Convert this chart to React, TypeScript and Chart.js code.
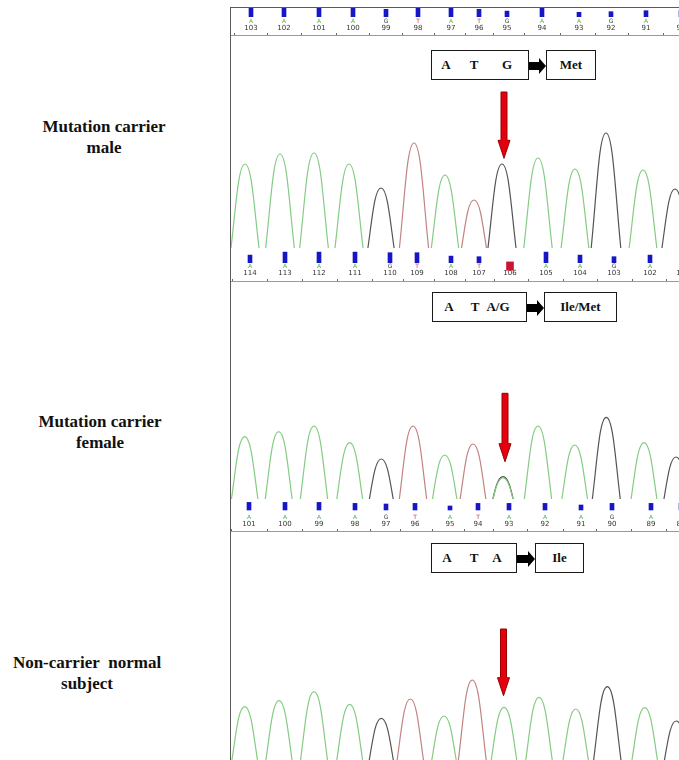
import React, { useEffect, useRef } from 'react';
import { Chart, registerables } from 'chart.js';
Chart.register(...registerables);

// ---------------- data ----------------
// x values are trace scan numbers, peak heights are signal intensity (RFU),
// quality values are Phred-like scores of the base calls.

// Panel 1 - mutation carrier male
const P1_POSITIONS = [103, 102, 101, 100, 99, 98, 97, 96, 95, 94, 93, 92, 91, 90];
const P1_CALLS = ['A', 'A', 'A', 'A', 'G', 'T', 'A', 'T', 'G', 'A', 'A', 'G', 'A', 'G'];
const P1_CALL_SCANS = [10, 26.5, 44, 61, 77.5, 93.5, 110, 124, 138, 155.5, 174, 190, 207.5, 225];
const P1_QUALITY = [42, 42, 42, 42, 37, 42, 42, 37, 28, 42, 22, 25, 30, 30];
const P1_PEAK_BASES = ['A', 'A', 'A', 'A', 'G', 'T', 'A', 'T', 'G', 'A', 'A', 'G', 'A', 'G'];
const P1_PEAK_SCANS = [7, 24.5, 41.5, 59, 75, 91.5, 107, 121.5, 135.5, 153.5, 172, 187.5, 206, 222];
const P1_PEAK_HEIGHTS = [1140, 1240, 1250, 1140, 900, 1350, 1030, 780, 1140, 1200, 1090, 1450, 1080, 890];

// Panel 2 - mutation carrier female
const P2_POSITIONS = [114, 113, 112, 111, 110, 109, 108, 107, 106, 105, 104, 103, 102, 101];
const P2_CALLS = ['A', 'A', 'A', 'A', 'G', 'T', 'A', 'T', '', 'A', 'A', 'G', 'A', 'A'];
const P2_CALL_SCANS = [9.5, 27, 44, 62, 79.5, 93, 110, 124, 139.5, 157.5, 174.5, 191.5, 209.5, 226];
const P2_QUALITY = [38, 53, 53, 53, 50, 50, 33, 30, null, 53, 38, 30, 38, 38];
const P2_MIXED_SCANS = [139.5];
const P2_MIXED_RANGES = [[-38, 4]];
const P2_PEAK_BASES = ['A', 'A', 'A', 'A', 'G', 'T', 'A', 'T', 'G', 'A', 'A', 'A', 'G', 'A', 'G'];
const P2_PEAK_SCANS = [6.85, 23.85, 41.5, 59.35, 75.15, 91, 106.85, 121, 136, 136, 153.5, 171.85, 187.65, 206.5, 222.5];
const P2_PEAK_HEIGHTS = [923, 973, 1030, 863, 700, 1030, 740, 850, 523, 510, 1030, 840, 1117, 863, 720];

// Panel 3 - non-carrier normal subject
const P3_POSITIONS = [101, 100, 99, 98, 97, 96, 95, 94, 93, 92, 91, 90, 89, 88];
const P3_CALLS = ['A', 'A', 'A', 'A', 'G', 'T', 'A', 'T', 'A', 'A', 'A', 'G', 'A', 'A'];
const P3_CALL_SCANS = [9, 27, 44, 62, 77.5, 92, 109.5, 123.5, 139, 157, 175, 190.5, 210, 225];
const P3_QUALITY = [38, 38, 38, 33, 30, 33, 20, 33, 33, 33, 25, 33, 33, 33];
const P3_PEAK_BASES = ['A', 'A', 'A', 'A', 'G', 'T', 'A', 'T', 'A', 'A', 'A', 'G', 'A', 'G'];
const P3_PEAK_SCANS = [6.85, 24, 41.5, 59.35, 75.15, 89.65, 106.5, 120.65, 136.5, 154, 172.35, 188.15, 206.85, 222.65];
const P3_PEAK_HEIGHTS = [833, 893, 983, 857, 717, 910, 740, 1100, 827, 927, 810, 1033, 823, 690];

// Codon annotations
const CODON_BASES = [['A', 'T', 'G'], ['A', 'T', 'A/G'], ['A', 'T', 'A']];
const AMINO_ACIDS = ['Met', 'Ile/Met', 'Ile'];
const SUBJECT_LINES = [['Mutation carrier', 'male'], ['Mutation carrier', 'female'], ['Non-carrier\u00a0 normal', 'subject']];

// ---------------- styles / layout ----------------
const TRACE_COLOR: Record<string, string> = { A: '#84cc84', T: '#c48282', G: '#555555', C: '#3050d0' };
const CALL_COLOR: Record<string, string> = { A: '#52b552', T: '#c23b3b', G: '#3a3a3a', C: '#2040c0', '': '#000' };
const HALF_BASE = 9; // scans from apex to peak foot
const CANVAS_W = 448;
const SCAN_MAX = 224;

type Panel = {
  top: number; height: number;
  positions: number[]; calls: string[]; callScans: number[]; quality: (number | null)[];
  mixedScans: number[]; mixedRanges: number[][];
  peakBases: string[]; peakScans: number[]; peakHeights: number[];
  cut: number; lineAt: number; barBase: number;
  arrow: { scan: number; top: number; tip: number };
};

const PANELS: Panel[] = [
  {
    top: 8, height: 240, positions: P1_POSITIONS, calls: P1_CALLS, callScans: P1_CALL_SCANS, quality: P1_QUALITY,
    mixedScans: [], mixedRanges: [], peakBases: P1_PEAK_BASES, peakScans: P1_PEAK_SCANS, peakHeights: P1_PEAK_HEIGHTS,
    cut: 300, lineAt: 2423, barBase: 8.7, arrow: { scan: 136.5, top: 84, tip: 150.3 },
  },
  {
    top: 248, height: 251, positions: P2_POSITIONS, calls: P2_CALLS, callScans: P2_CALL_SCANS, quality: P2_QUALITY,
    mixedScans: P2_MIXED_SCANS, mixedRanges: P2_MIXED_RANGES, peakBases: P2_PEAK_BASES, peakScans: P2_PEAK_SCANS, peakHeights: P2_PEAK_HEIGHTS,
    cut: 300, lineAt: 2480, barBase: 14.7, arrow: { scan: 137, top: 145.3, tip: 213.7 },
  },
  {
    top: 499, height: 261, positions: P3_POSITIONS, calls: P3_CALLS, callScans: P3_CALL_SCANS, quality: P3_QUALITY,
    mixedScans: [], mixedRanges: [], peakBases: P3_PEAK_BASES, peakScans: P3_PEAK_SCANS, peakHeights: P3_PEAK_HEIGHTS,
    cut: 300, lineAt: 2583, barBase: 11, arrow: { scan: 136.25, top: 130, tip: 196.7 },
  },
];

const CODON_LAYOUT = [
  { top: 50, h: 30, box: [431, 529], letters: [446, 474, 507], aaBox: [546, 596] },
  { top: 292, h: 30, box: [432, 527], letters: [449, 475, 498], aaBox: [544, 617] },
  { top: 543, h: 30, box: [431, 517], letters: [447, 474, 497], aaBox: [535, 584] },
];
const LABEL_LAYOUT = [
  { top: 115.5, width: 208 },
  { top: 410.5, width: 200 },
  { top: 652, width: 174 },
];

function buildConfig(p: Panel): any {
  const datasets: any[] = [];
  ['A', 'T', 'G', 'C'].forEach((b) => {
    const pts: any[] = [];
    p.peakBases.forEach((pb, i) => {
      if (pb !== b) return;
      const x = p.peakScans[i];
      pts.push({ x: x - HALF_BASE, y: 0 }, { x, y: p.peakHeights[i] }, { x: x + HALF_BASE, y: 0 }, { x: x + HALF_BASE, y: null });
    });
    if (pts.length) {
      datasets.push({
        type: 'line', label: b, data: pts, borderColor: TRACE_COLOR[b], borderWidth: 1.2,
        pointRadius: 0, tension: 0.45, fill: false, spanGaps: false, xAxisID: 'x', yAxisID: 'yT',
      });
    }
  });
  const qData: any[] = [];
  p.callScans.forEach((x, i) => { if (p.quality[i] !== null) qData.push({ x, y: p.quality[i] }); });
  datasets.push({
    type: 'bar', label: 'quality', data: qData, backgroundColor: '#1616c4', barThickness: 4, maxBarThickness: 4,
    grouped: false, xAxisID: 'x', yAxisID: 'yQ',
  });
  if (p.mixedScans.length) {
    datasets.push({
      type: 'bar', label: 'mixed', data: p.mixedScans.map((x, i) => ({ x, y: p.mixedRanges[i] })),
      backgroundColor: '#cc1530', barThickness: 7, maxBarThickness: 7, grouped: false, xAxisID: 'x', yAxisID: 'yQ',
    });
  }

  const fixTicks = (s: any) => { s.ticks = p.callScans.map((v) => ({ value: v })); };
  const noPad = (s: any) => { s.paddingLeft = 0; s.paddingRight = 0; s.paddingTop = 0; s.paddingBottom = 0; };

  const arrowPlugin = {
    id: 'mutArrow',
    afterDatasetsDraw(chart: any) {
      const a = p.arrow;
      const ctx = chart.ctx;
      const x = chart.scales.x.getPixelForValue(a.scan);
      const headTop = a.tip - 18;
      ctx.save();
      ctx.beginPath();
      ctx.moveTo(x - 3, a.top);
      ctx.lineTo(x + 3, a.top);
      ctx.lineTo(x + 3, headTop);
      ctx.lineTo(x + 6, headTop);
      ctx.lineTo(x, a.tip);
      ctx.lineTo(x - 6, headTop);
      ctx.lineTo(x - 3, headTop);
      ctx.closePath();
      ctx.fillStyle = '#e3000f';
      ctx.fill();
      ctx.strokeStyle = '#9a0000';
      ctx.lineWidth = 1;
      ctx.stroke();
      ctx.restore();
    },
  };

  return {
    type: 'line',
    data: { datasets },
    plugins: [arrowPlugin],
    options: {
      responsive: false,
      animation: false,
      events: [],
      layout: { padding: 0 },
      plugins: { legend: { display: false }, tooltip: { enabled: false }, title: { display: false } },
      scales: {
        x: {
          type: 'linear', min: 0, max: SCAN_MAX, offset: false, position: { yT: p.lineAt },
          border: { display: true, color: '#9a9a9a', width: 1 },
          grid: { display: true, drawOnChartArea: false, drawTicks: true, tickLength: -3, color: '#666', lineWidth: 1 },
          ticks: {
            autoSkip: false, maxRotation: 0, minRotation: 0, padding: -8.7,
            font: { family: 'DejaVu Sans', size: 7 }, color: '#333',
            callback: (_v: any, i: number) => String(p.positions[i]),
          },
          afterBuildTicks: fixTicks, afterFit: noPad,
        },
        xL: {
          type: 'linear', axis: 'x', min: 0, max: SCAN_MAX, offset: false, position: { yT: p.lineAt },
          border: { display: false },
          grid: { display: false, drawTicks: false },
          ticks: {
            autoSkip: false, maxRotation: 0, minRotation: 0, padding: -17.9,
            font: { family: 'DejaVu Sans', size: 6 },
            color: (c: any) => CALL_COLOR[p.calls[c.index]] || '#333',
            callback: (_v: any, i: number) => p.calls[i],
          },
          afterBuildTicks: fixTicks, afterFit: noPad,
        },
        yT: { type: 'linear', display: false, min: p.cut, max: p.cut + p.height * 10 },
        yQ: { type: 'linear', display: false, min: -(p.height - p.barBase) * 5, max: p.barBase * 5 },
      },
    },
  };
}

function ChromPanel({ panel }: { panel: Panel }) {
  const ref = useRef<HTMLCanvasElement>(null);
  useEffect(() => {
    const chart = new Chart(ref.current as HTMLCanvasElement, buildConfig(panel));
    return () => chart.destroy();
  }, [panel]);
  return (
    <canvas
      ref={ref}
      width={CANVAS_W}
      height={panel.height}
      style={{ position: 'absolute', left: 231, top: panel.top, width: CANVAS_W, height: panel.height, display: 'block' }}
    />
  );
}

function CodonBox({ idx }: { idx: number }) {
  const L = CODON_LAYOUT[idx];
  const font = 'bold 13px "Liberation Serif", "Times New Roman", serif';
  const boxStyle: React.CSSProperties = {
    position: 'absolute', top: L.top, height: L.h, boxSizing: 'border-box', border: '1px solid #1a1a1a',
    background: '#fff', font, color: '#111',
  };
  const cy = L.top + L.h / 2 + 1;
  return (
    <>
      <div style={{ ...boxStyle, left: L.box[0], width: L.box[1] - L.box[0] }}>
        {CODON_BASES[idx].map((b, i) => (
          <span
            key={i}
            style={{
              position: 'absolute', left: L.letters[i] - L.box[0] - 1, top: 0, lineHeight: `${L.h - 2}px`,
              transform: 'translateX(-50%)', whiteSpace: 'nowrap',
            }}
          >
            {b}
          </span>
        ))}
      </div>
      <svg
        style={{ position: 'absolute', left: L.box[1], top: cy - 9, overflow: 'visible' }}
        width={L.aaBox[0] - L.box[1]}
        height={18}
      >
        <polygon
          points={`0,5 ${L.aaBox[0] - L.box[1] - 7},5 ${L.aaBox[0] - L.box[1] - 7},1 ${L.aaBox[0] - L.box[1]},9 ${L.aaBox[0] - L.box[1] - 7},17 ${L.aaBox[0] - L.box[1] - 7},13 0,13`}
          fill="#000"
        />
      </svg>
      <div
        style={{
          ...boxStyle, left: L.aaBox[0], width: L.aaBox[1] - L.aaBox[0], textAlign: 'center', lineHeight: `${L.h - 2}px`,
        }}
      >
        {AMINO_ACIDS[idx]}
      </div>
    </>
  );
}

export default function App() {
  return (
    <div
      style={{
        position: 'absolute', left: 0, top: 0, width: 679, height: 760, background: '#fff', overflow: 'hidden',
        fontFamily: '"Liberation Serif", serif',
      }}
    >
      {SUBJECT_LINES.map((lines, i) => (
        <div
          key={i}
          style={{
            position: 'absolute', left: 0, top: LABEL_LAYOUT[i].top, width: LABEL_LAYOUT[i].width, textAlign: 'center',
            font: 'bold 17px "Liberation Serif", serif', lineHeight: '21.3px', color: '#111', whiteSpace: 'pre',
          }}
        >
          {lines[0]}
          <br />
          {lines[1]}
        </div>
      ))}
      {PANELS.map((p, i) => (
        <ChromPanel key={i} panel={p} />
      ))}
      <div style={{ position: 'absolute', left: 230, top: 7, width: 1, height: 753, background: '#5a5a5a' }} />
      <div style={{ position: 'absolute', left: 230, top: 7, width: 449, height: 1, background: '#5a5a5a' }} />
      {CODON_LAYOUT.map((_, i) => (
        <CodonBox key={i} idx={i} />
      ))}
    </div>
  );
}
